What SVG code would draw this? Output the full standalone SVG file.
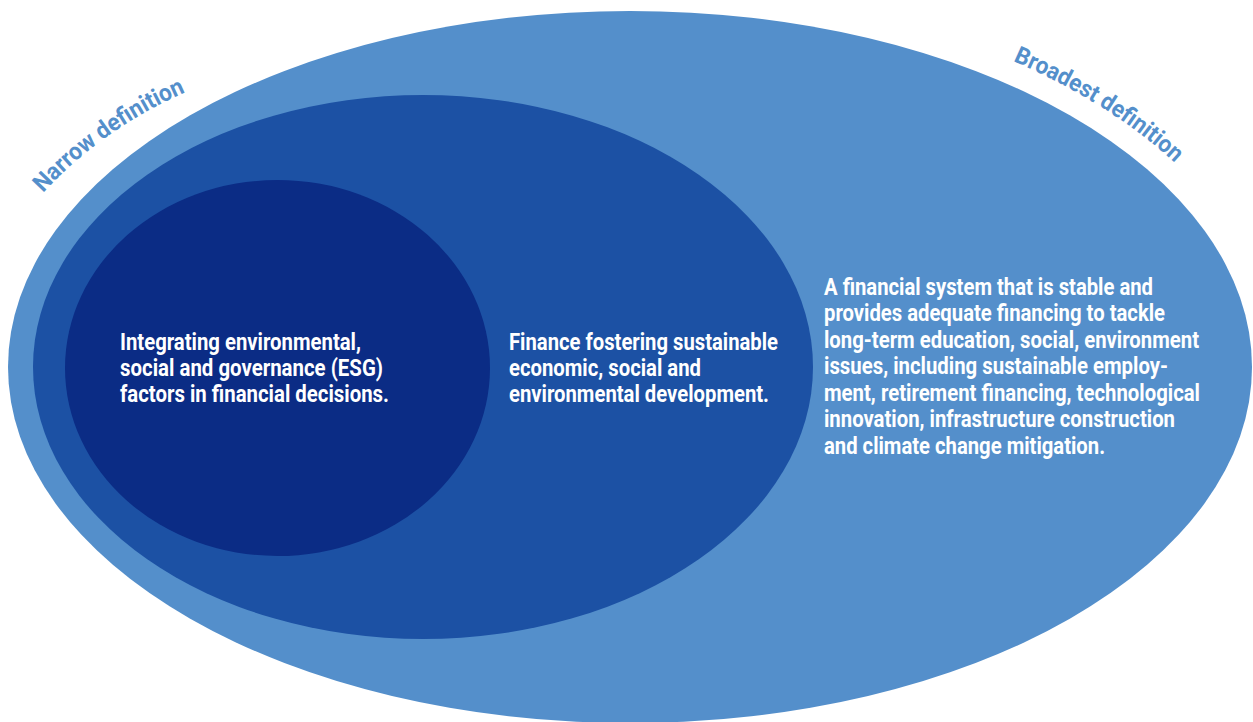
<svg xmlns="http://www.w3.org/2000/svg" width="1253" height="722" viewBox="0 0 1253 722">
<style>
.t{font-family:Roboto,"Liberation Sans",sans-serif;font-weight:700;font-size:24px;fill:#ffffff}
.lab{font-family:Roboto,"Liberation Sans",sans-serif;font-weight:700;font-size:24px;fill:#548FCB}
</style>
<defs>
<path id="pNarrow" d="M 43,193 Q 105,126 193,89"/>
<path id="pBroad" d="M 1013,61 A 646 380 0 0 1 1177,165"/>
</defs>
<rect width="1253" height="722" fill="#ffffff"/>
<g id="broadest">
<ellipse cx="630" cy="367" rx="622" ry="356" fill="#548FCB"/>
<text class="t"><tspan x="824" y="295" textLength="329" lengthAdjust="spacingAndGlyphs">A financial system that is stable and</tspan></text>
<text class="t"><tspan x="824" y="321" textLength="341" lengthAdjust="spacingAndGlyphs">provides adequate financing to tackle</tspan></text>
<text class="t"><tspan x="824" y="348" textLength="375" lengthAdjust="spacingAndGlyphs">long-term education, social, environment</tspan></text>
<text class="t"><tspan x="824" y="374" textLength="344" lengthAdjust="spacingAndGlyphs">issues, including sustainable employ-</tspan></text>
<text class="t"><tspan x="824" y="401" textLength="376" lengthAdjust="spacingAndGlyphs">ment, retirement financing, technological</tspan></text>
<text class="t"><tspan x="824" y="427" textLength="351" lengthAdjust="spacingAndGlyphs">innovation, infrastructure construction</tspan></text>
<text class="t"><tspan x="824" y="454" textLength="281" lengthAdjust="spacingAndGlyphs">and climate change mitigation.</tspan></text>
<text class="lab"><textPath href="#pBroad" textLength="192" lengthAdjust="spacingAndGlyphs">Broadest definition</textPath></text>
</g>
<g id="middle">
<ellipse cx="423" cy="367" rx="390" ry="272" fill="#1C51A4"/>
<text class="t"><tspan x="509" y="350" textLength="269" lengthAdjust="spacingAndGlyphs">Finance fostering sustainable</tspan></text>
<text class="t"><tspan x="509" y="376" textLength="192" lengthAdjust="spacingAndGlyphs">economic, social and</tspan></text>
<text class="t"><tspan x="509" y="402" textLength="260" lengthAdjust="spacingAndGlyphs">environmental development.</tspan></text>
</g>
<g id="narrow">
<ellipse cx="277.5" cy="368" rx="212.5" ry="188" fill="#0B2C85"/>
<text class="t"><tspan x="120" y="350" textLength="241" lengthAdjust="spacingAndGlyphs">Integrating environmental,</tspan></text>
<text class="t"><tspan x="120" y="376" textLength="263" lengthAdjust="spacingAndGlyphs">social and governance (ESG)</tspan></text>
<text class="t"><tspan x="120" y="402" textLength="269" lengthAdjust="spacingAndGlyphs">factors in financial decisions.</tspan></text>
<text class="lab"><textPath href="#pNarrow" textLength="176" lengthAdjust="spacingAndGlyphs">Narrow definition</textPath></text>
</g>
</svg>
